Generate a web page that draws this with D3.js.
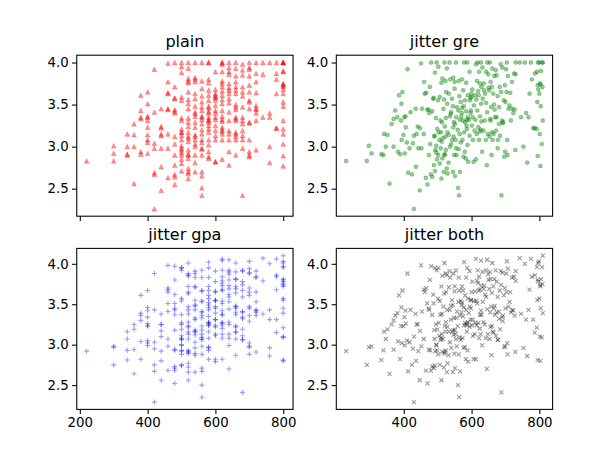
<!DOCTYPE html>
<html><head><meta charset="utf-8">
<script src="https://cdn.jsdelivr.net/npm/d3@7"></script>
<style>body{margin:0;background:#fff} svg text{font-family:"DejaVu Sans",sans-serif;fill:#000}</style>
</head><body><svg id="c" width="614" height="460"></svg>
<script>
// GRE score for each applicant
const gre = [
220,
300,300,300,
340,340,340,340,
360,360,360,360,
380,380,380,380,380,380,
400,400,400,400,400,400,400,400,400,400,
420,420,420,420,420,420,420,
440,440,440,440,440,440,440,440,
460,460,460,460,460,460,460,460,460,
480,480,480,480,480,480,480,480,480,480,480,480,480,480,
500,500,500,500,500,500,500,500,500,500,500,500,500,500,500,500,500,500,500,500,
520,520,520,520,520,520,520,520,520,520,520,520,520,520,520,520,520,520,520,520,520,520,520,520,
540,540,540,540,540,540,540,540,540,540,540,540,540,540,540,540,540,540,540,540,
560,560,560,560,560,560,560,560,560,560,560,560,560,560,560,560,560,560,560,560,560,560,
580,580,580,580,580,580,580,580,580,580,580,580,580,580,580,580,580,580,580,580,580,580,580,
600,600,600,600,600,600,600,600,600,600,600,600,600,600,600,600,600,600,
620,620,620,620,620,620,620,620,620,620,620,620,620,620,620,620,620,620,620,620,620,
640,640,640,640,640,640,640,640,640,640,640,640,640,640,640,640,640,
660,660,660,660,660,660,660,660,660,660,660,660,660,660,660,660,660,660,
680,680,680,680,680,680,680,680,680,680,680,680,680,680,680,
700,700,700,700,700,700,700,700,700,700,700,700,700,700,700,
720,720,720,720,720,720,720,720,720,720,
740,740,740,
760,760,760,760,760,
780,780,780,780,780,780,
800,800,800,800,800,800,800,800,800,800,800,800,800,800,800,800,800,800,800,800
];
// GPA for each applicant, same order
const gpa = [
2.83,
3.01,2.92,2.83,
3.15,3.00,2.91,2.90,
3.27,3.14,3.00,2.56,
3.61,3.43,3.35,3.33,2.94,2.91,
3.65,3.51,3.36,3.35,3.31,3.23,3.14,3.08,3.05,2.92,
3.92,3.41,3.04,2.98,2.69,2.67,2.26,
3.45,3.24,3.22,3.15,3.13,2.98,2.76,2.48,
3.99,3.77,3.64,3.63,3.45,3.44,3.15,2.98,2.63,
4.00,3.71,3.58,3.44,3.42,3.40,3.12,3.03,2.90,2.78,2.67,2.64,2.55,3.57,
4.00,3.95,3.88,3.59,3.55,3.34,3.31,3.21,3.17,3.13,3.08,3.01,2.98,2.96,2.90,2.85,2.80,2.71,3.17,2.93,
4.00,3.93,3.81,3.78,3.76,3.65,3.56,3.51,3.45,3.34,3.29,3.24,3.17,3.10,3.06,2.96,2.91,2.86,2.74,2.70,2.68,2.62,3.12,2.90,
4.00,3.82,3.80,3.77,3.63,3.57,3.48,3.41,3.36,3.29,3.23,3.14,3.08,3.03,3.00,2.90,2.81,2.70,3.39,3.12,
4.00,3.78,3.69,3.60,3.53,3.47,3.43,3.35,3.32,3.27,3.20,3.15,3.08,3.05,2.97,2.90,2.70,2.65,2.51,2.42,3.36,2.98,
4.00,4.00,3.80,3.76,3.67,3.61,3.55,3.48,3.42,3.40,3.35,3.31,3.29,3.21,3.17,3.08,3.02,2.94,2.88,2.86,3.46,3.25,3.32,
3.89,3.68,3.63,3.61,3.58,3.55,3.49,3.43,3.35,3.32,3.25,3.19,3.13,3.08,2.82,2.82,3.59,3.40,
4.00,3.98,3.89,3.78,3.75,3.71,3.66,3.61,3.56,3.51,3.43,3.36,3.32,3.23,3.20,3.15,3.08,2.85,3.30,3.18,4.00,
4.00,3.94,3.89,3.75,3.70,3.63,3.57,3.52,3.41,3.31,3.19,3.15,3.08,2.94,2.78,3.67,3.86,
4.00,3.93,3.84,3.77,3.71,3.67,3.63,3.50,3.47,3.35,3.31,3.17,3.15,3.12,3.08,2.90,3.44,3.33,
3.98,3.91,3.71,3.65,3.60,3.47,3.35,3.31,3.19,3.13,3.08,2.98,2.42,3.85,3.27,
4.00,3.94,3.84,3.73,3.65,3.55,3.53,3.45,3.29,3.08,2.94,2.90,2.88,3.92,3.28,
4.00,3.87,3.77,3.49,3.44,3.40,3.31,2.96,3.64,3.45,
4.00,3.86,3.35,
4.00,3.35,3.00,2.81,3.40,
4.00,3.87,3.80,3.63,3.22,3.22,
4.00,4.00,4.00,3.90,3.89,3.74,3.71,3.68,3.63,3.53,3.48,3.31,3.21,3.15,3.03,2.89,2.77,3.75,3.73,4.00
];
// GRE jitter offsets (GRE points)
const greJitter = [
10,-3,5,-9,2,7,-6,0,4,-8,10,-2,6,-5,1,-10,3,9,-4,-7,
5,2,-8,6,-1,-6,9,3,-9,0,7,-3,-7,4,10,-5,1,8,-2,-10,
3,-4,7,-9,0,6,2,-6,9,-1,-8,5,1,-3,8,-7,4,-5,10,-2,
-6,9,0,4,-10,7,-3,2,-8,6,1,-5,8,-1,3,-9,5,-4,9,-7,
2,-2,6,-8,10,-4,0,7,-6,3,-9,5,-1,8,-3,4,-7,1,9,-5,
-8,4,1,-6,7,-2,9,-9,3,0,-5,6,-3,10,-7,2,5,-1,-4,8,
6,-7,3,0,-4,9,-8,5,-1,7,-6,2,-10,4,8,-3,1,-5,6,-9,
-1,5,-7,8,2,-4,6,-9,0,3,10,-6,7,-2,-8,4,-5,9,1,-3,
4,-9,9,-5,1,6,-2,-7,8,0,-4,3,-8,5,7,-6,2,-1,10,-3,
-5,7,-2,3,-8,1,9,-6,4,-10,6,0,-3,8,-7,2,-4,5,9,-1,
1,-6,8,-3,5,-9,0,7,-5,2,-7,9,4,-2,6,-8,3,-4,10,0,
-7,3,6,-1,-5,8,2,-9,5,-3,9,-6,1,7,-4,0,-8,4,6,-2,
9,-4,0,5,-7,2,-1,8,-5,6,-9,3,7,-3,1,-6,10,-8,4,-2,
-3,8,-6,1,4,-9,7,-2,3,-5,0,9,-7,5,-1,6,-4,2,-8,10,
5,-1,-8,7,3,-4,9,-6,0,2,-10,6,-3,8,-7,4,1,-5,7,-2,
-9,6,2,-4,8,-1,5,-7,3,9,-3,0,-6,4,10,-8,1,7,-5,3,
2,-5,10
];
// GPA jitter offsets (hundredths of a GPA point)
const gpaJitter = [
9,-4,6,-8,1,7,-10,3,-2,5,-6,8,0,-7,4,-3,10,-9,2,-5,
6,-1,-8,3,9,-6,0,7,-4,2,-9,5,-2,8,3,-7,1,-5,10,-3,
-6,4,8,-1,-9,6,2,-4,7,-8,0,5,-3,9,-7,1,-5,3,6,-10,
4,-7,1,9,-3,5,-8,0,7,-5,2,-9,6,-2,10,-6,3,-1,8,-4,
-2,8,-5,3,-9,6,1,-7,4,10,-4,0,7,-8,2,-6,9,-1,5,-3,
7,-3,0,5,-8,2,9,-6,4,-1,-9,6,3,-5,8,-2,1,-10,7,4,
-5,2,8,-7,3,-1,6,-4,9,0,-8,5,-3,7,1,-6,10,-2,4,-9,
3,-6,5,1,-9,8,-3,6,-1,-7,4,9,-5,2,-8,7,0,-4,6,-2,
1,9,-7,4,-2,-5,7,0,-9,3,8,-4,6,-1,-6,2,10,-8,5,-3,
-8,5,2,-4,7,-1,-6,9,3,-3,0,6,-9,4,8,-5,1,-7,2,10,
6,-2,-9,8,1,-5,4,-7,9,0,-3,7,2,-8,5,-4,3,-6,10,-1,
-4,7,3,-6,9,-2,0,5,-8,6,1,-10,8,-3,4,-7,2,9,-5,0,
2,-9,6,0,-5,8,-3,4,7,-7,1,-4,9,-1,-6,5,3,-8,6,-2,
8,-1,-7,5,3,-5,10,-3,0,6,-8,2,7,-6,4,-2,9,-4,1,-9,
-3,6,4,-8,2,9,-5,1,-2,7,-7,3,0,8,-4,5,-9,6,-1,4,
5,-7,9,1,-4,3,-9,7,-2,4,10,-6,2,-3,8,0,-5,6,-8,3,
-1,7,10
];
const xTickValues = [200, 400, 600, 800];
const yTickValues = [2.5, 3.0, 3.5, 4.0];
const panelTitles = ["plain", "jitter gre", "jitter gpa", "jitter both"];

const greJ = gre.map((g, i) => g + (greJitter[i] || 0));
const gpaJ = gpa.map((g, i) => +(g + (gpaJitter[i] || 0) / 100).toFixed(3));

const svg = d3.select("#c");
const W = 614, H = 460;
const L = 0.125 * W, R = 0.9 * W, T = 0.12 * H, B = 0.89 * H;
const aw = (R - L) / 2.2, ah = (B - T) / 2.2;
const colX = [L, L + 1.2 * aw], rowY = [T, T + 1.2 * ah];

function pad(ext) { const d = ext[1] - ext[0]; return [ext[0] - 0.05 * d, ext[1] + 0.05 * d]; }
const xDomLeft = pad(d3.extent(gre));
const xDomRight = pad(d3.extent(greJ));
const yDomTop = pad(d3.extent(gpa));
const yDomBot = pad(d3.extent(gpaJ));

const markers = {
  tri: s => `M0,${-s}L${s},${s}L${-s},${s}Z`,
  circ: s => `M${s},0A${s},${s} 0 1,1 ${-s},0A${s},${s} 0 1,1 ${s},0Z`,
  plus: s => `M${-s},0H${s}M0,${-s}V${s}`,
  cross: s => `M${-s},${-s}L${s},${s}M${-s},${s}L${s},${-s}`
};

const panels = [
  {col:0,row:0,xs:gre, ys:gpa, m:"tri",  s:2.2, color:"#ff0000", fill:true,  xDom:xDomLeft,  yDom:yDomTop, xLabels:false},
  {col:1,row:0,xs:greJ,ys:gpa, m:"circ", s:1.95, color:"#008000", fill:true,  xDom:xDomRight, yDom:yDomTop, xLabels:false},
  {col:0,row:1,xs:gre, ys:gpaJ,m:"plus", s:2.5, color:"#0000ff", fill:false, xDom:xDomLeft,  yDom:yDomBot, xLabels:true},
  {col:1,row:1,xs:greJ,ys:gpaJ,m:"cross",s:2.0, color:"#000000", fill:false, xDom:xDomRight, yDom:yDomBot, xLabels:true}
];

panels.forEach((p, k) => {
  const x0 = colX[p.col], y0 = rowY[p.row];
  const x = d3.scaleLinear().domain(p.xDom).range([x0, x0 + aw]);
  const y = d3.scaleLinear().domain(p.yDom).range([y0 + ah, y0]);
  const g = svg.append("g");
  const path = markers[p.m](p.s);
  g.selectAll("path.pt").data(p.xs.map((v, i) => [v, p.ys[i]])).enter().append("path")
    .attr("class", "pt")
    .attr("d", path)
    .attr("transform", d => `translate(${x(d[0])},${y(d[1])})`)
    .attr("fill", p.fill ? p.color : "none")
    .attr("fill-opacity", 0.4)
    .attr("stroke", p.color)
    .attr("stroke-opacity", 0.4)
    .attr("stroke-width", p.fill ? 0.8 : 1.1);

  const xt = xTickValues.filter(v => v >= p.xDom[0] && v <= p.xDom[1]);
  const yt = yTickValues.filter(v => v >= p.yDom[0] && v <= p.yDom[1]);
  const xAxis = d3.axisBottom(x).tickValues(xt).tickSize(4.7).tickPadding(3.3)
    .tickFormat(p.xLabels ? d3.format("d") : () => "");
  const yAxis = d3.axisLeft(y).tickValues(yt).tickSize(4.7).tickPadding(3.3)
    .tickFormat(d3.format(".1f"));
  const gx = svg.append("g").attr("transform", `translate(0,${y0 + ah})`).call(xAxis);
  const gy = svg.append("g").attr("transform", `translate(${x0},0)`).call(yAxis);
  [gx, gy].forEach(a => {
    a.select(".domain").remove();
    a.selectAll("line").attr("stroke", "#000").attr("stroke-width", 1.07);
    a.selectAll("text").attr("font-size", "13.33px").attr("font-family", "DejaVu Sans").attr("fill", "#000");
  });
  svg.append("rect").attr("x", x0).attr("y", y0).attr("width", aw).attr("height", ah)
    .attr("fill", "none").attr("stroke", "#000").attr("stroke-width", 1.07);
  svg.append("text").attr("x", x0 + aw / 2).attr("y", y0 - 8)
    .attr("text-anchor", "middle").attr("font-size", "16px").text(panelTitles[k]);
});
</script></body></html>
